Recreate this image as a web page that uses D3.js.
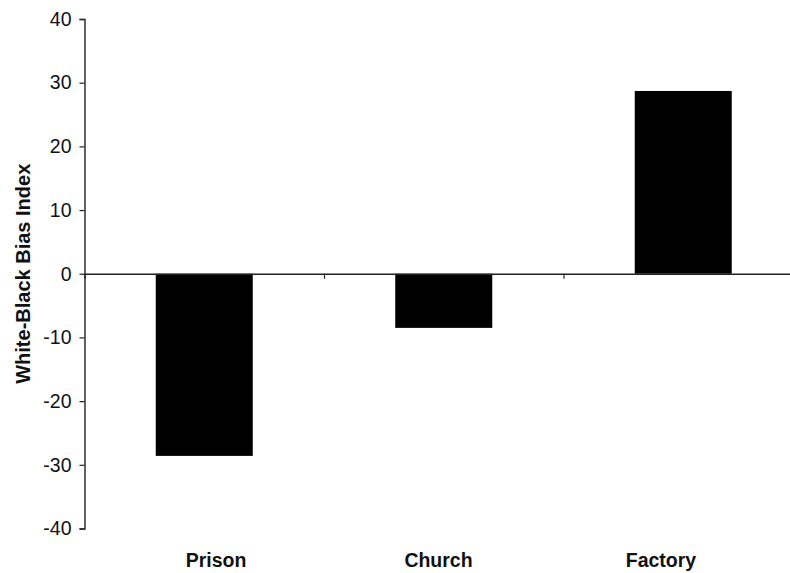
<!DOCTYPE html>
<html><head><meta charset="utf-8">
<script src="https://cdn.jsdelivr.net/npm/d3@7"></script>
<style>body{margin:0;background:#fff}svg{display:block}</style>
</head><body>
<script>
const categories = ["Prison", "Church", "Factory"];
const values = [-28.6, -8.5, 28.7];
const yTicks = [-40, -30, -20, -10, 0, 10, 20, 30, 40];
const yTitle = "White-Black Bias Index";

const W = 790, H = 573;
const svg = d3.select("body").append("svg").attr("width", W).attr("height", H);
const x0 = 84.5, bandW = 239.5;
const x = d3.scaleBand().domain(categories).range([x0, x0 + bandW * 3]).paddingInner(0.595).paddingOuter(0.2975);
const y = d3.scaleLinear().domain([-40, 40]).range([528.5, 19]);
const labelX = d3.scalePoint().domain(categories).range([216, 661]);

// y axis
const yAxis = d3.axisLeft(y).tickValues(yTicks).tickSize(5).tickPadding(8).tickFormat(d => String(d));
const gy = svg.append("g").attr("transform", `translate(${x0},0)`).call(yAxis);
gy.select(".domain").attr("stroke", "#222").attr("stroke-width", 1.4);
gy.selectAll(".tick line").attr("stroke", "#222").attr("stroke-width", 1.2);
gy.selectAll(".tick text").attr("font-family", "Liberation Sans, Arial, sans-serif").attr("font-size", 19.5).attr("fill", "#111");

// bars
svg.append("g").selectAll("rect").data(categories).join("rect")
  .attr("x", d => x(d)).attr("width", x.bandwidth())
  .attr("y", (d, i) => y(Math.max(0, values[i])))
  .attr("height", (d, i) => Math.abs(y(values[i]) - y(0)))
  .attr("fill", "#000");

// zero line with category separators
const xAxis = d3.axisBottom(d3.scaleLinear().domain([0, 3]).range([x0, x0 + bandW * 3]))
  .tickValues([1, 2]).tickSize(5).tickFormat("");
const gx = svg.append("g").attr("transform", `translate(0,${y(0)})`).call(xAxis);
gx.select(".domain").attr("stroke", "#222").attr("stroke-width", 1.4);
gx.selectAll(".tick line").attr("stroke", "#222").attr("stroke-width", 1.2);

// category labels
svg.append("g").selectAll("text").data(categories).join("text")
  .attr("x", d => labelX(d)).attr("y", 567)
  .attr("text-anchor", "middle")
  .attr("font-family", "Liberation Sans, Arial, sans-serif")
  .attr("font-weight", "bold").attr("font-size", 19.5).attr("fill", "#111")
  .text(d => d);

// y title
svg.append("text")
  .attr("transform", `translate(30,${y(0)}) rotate(-90)`)
  .attr("text-anchor", "middle")
  .attr("font-family", "Liberation Sans, Arial, sans-serif")
  .attr("font-weight", "bold").attr("font-size", 20).attr("fill", "#111")
  .text(yTitle);
</script>
</body></html>
